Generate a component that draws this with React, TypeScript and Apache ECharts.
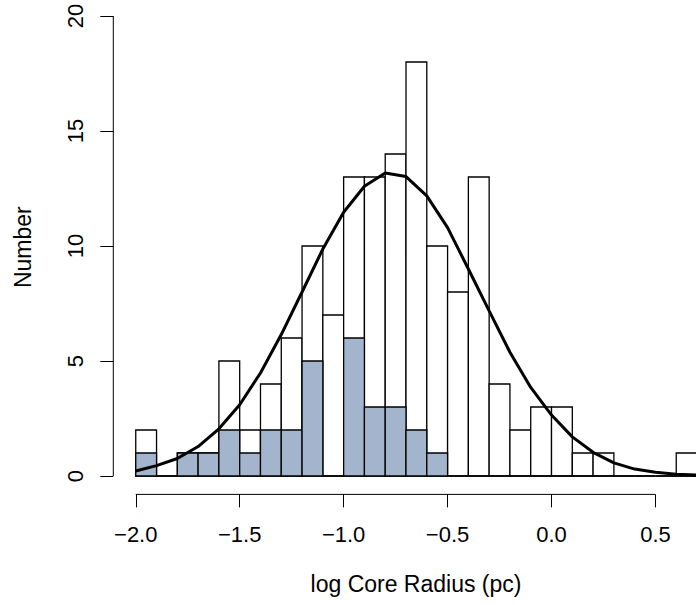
import React, { useEffect, useRef } from "react";
import * as echarts from "echarts";

// Histogram bins (log core radius, pc), width 0.1
const binStart = [-2.0, -1.9, -1.8, -1.7, -1.6, -1.5, -1.4, -1.3, -1.2, -1.1, -1.0, -0.9, -0.8, -0.7, -0.6, -0.5, -0.4, -0.3, -0.2, -0.1, 0.0, 0.1, 0.2, 0.3, 0.4, 0.5, 0.6];
const binEnd = [-1.9, -1.8, -1.7, -1.6, -1.5, -1.4, -1.3, -1.2, -1.1, -1.0, -0.9, -0.8, -0.7, -0.6, -0.5, -0.4, -0.3, -0.2, -0.1, 0.0, 0.1, 0.2, 0.3, 0.4, 0.5, 0.6, 0.7];
const totalCounts = [2, 0, 1, 1, 5, 2, 4, 6, 10, 7, 13, 13, 14, 18, 10, 8, 13, 4, 2, 3, 3, 1, 1, 0, 0, 0, 1];
const subsetCounts = [1, 0, 1, 1, 2, 1, 2, 2, 5, 0, 6, 3, 3, 2, 1, 0, 0, 0, 0, 0, 0, 0, 0, 0, 0, 0, 0];

// Fitted curve
const curveX = [-2.0, -1.9, -1.8, -1.7, -1.6, -1.5, -1.4, -1.3, -1.2, -1.1, -1.0, -0.9, -0.8, -0.7, -0.6, -0.5, -0.4, -0.3, -0.2, -0.1, 0.0, 0.1, 0.2, 0.3, 0.4, 0.5, 0.6, 0.7];
const curveY = [0.22, 0.45, 0.76, 1.28, 2.05, 3.1, 4.48, 6.15, 8.0, 9.87, 11.47, 12.6, 13.17, 13.02, 12.18, 10.8, 9.0, 7.18, 5.38, 3.85, 2.65, 1.7, 1.03, 0.57, 0.3, 0.16, 0.08, 0.04];

// Axes
const xTicks = [-2.0, -1.5, -1.0, -0.5, 0.0, 0.5];
const yTicks = [0, 5, 10, 15, 20];
const xMin = -2.108;
const xMax = 0.695;
const yMin = -0.8;
const yMax = 20.696;

const FONT = "'Liberation Sans', Arial, Helvetica, sans-serif";

const fmt = (v: number) => {
  const s = Number(v).toFixed(1);
  return s.replace("-", "\u2212");
};

function barItem(fill: string) {
  return (params: any, api: any) => {
    const x0 = api.value(0);
    const x1 = api.value(1);
    const c = api.value(2);
    const p0 = api.coord([x0, c]);
    const p1 = api.coord([x1, 0]);
    return {
      type: "rect",
      shape: { x: p0[0], y: p0[1], width: p1[0] - p0[0], height: p1[1] - p0[1] },
      style: { fill, stroke: "#000", lineWidth: 1.3 },
    };
  };
}

export default function App() {
  const ref = useRef<HTMLDivElement>(null);
  useEffect(() => {
    if (!ref.current) return;
    const chart = echarts.init(ref.current, null, { renderer: "svg" });
    const totalData = binStart.map((s, i) => [s, binEnd[i], totalCounts[i]]);
    const subsetData = binStart.map((s, i) => [s, binEnd[i], subsetCounts[i]]);
    chart.setOption({
      animation: false,
      backgroundColor: "#fff",
      grid: { left: 113.3, right: 0, top: 0, bottom: 110.6, containLabel: false },
      xAxis: {
        type: "value",
        min: xMin,
        max: xMax,
        axisLine: { show: false, onZero: false },
        splitLine: { show: false },
        axisTick: {
          show: true,
          customValues: xTicks,
          length: 13,
          lineStyle: { color: "#000", width: 1 },
        },
        axisLabel: {
          show: true,
          customValues: xTicks,
          formatter: (v: number) => fmt(v),
          margin: 29,
          fontSize: 22,
          fontFamily: FONT,
          color: "#000",
        },
      },
      yAxis: {
        type: "value",
        min: yMin,
        max: yMax,
        name: "Number",
        nameLocation: "middle",
        nameRotate: 90,
        nameGap: 79,
        nameTextStyle: { fontSize: 23, fontFamily: FONT, color: "#000" },
        axisLine: { show: false, onZero: false },
        splitLine: { show: false },
        axisTick: {
          show: true,
          customValues: yTicks,
          length: 13,
          lineStyle: { color: "#000", width: 1 },
        },
        axisLabel: {
          show: true,
          customValues: yTicks,
          rotate: 90,
          margin: 27,
          fontSize: 22,
          fontFamily: FONT,
          color: "#000",
        },
      },
      graphic: [
        {
          type: "text",
          x: 416,
          y: 584,
          style: {
            text: "log Core Radius (pc)",
            font: `23px ${FONT}`,
            fill: "#000",
            textAlign: "center",
            textVerticalAlign: "middle",
          },
        },
      ],
      series: [
        {
          type: "custom",
          renderItem: barItem("#ffffff"),
          data: totalData,
          encode: { x: [0, 1], y: 2 },
          clip: true,
          z: 1,
        },
        {
          type: "custom",
          renderItem: barItem("#A2B5CD"),
          data: subsetData,
          encode: { x: [0, 1], y: 2 },
          clip: true,
          z: 2,
        },
        {
          type: "line",
          data: curveX.map((x, i) => [x, curveY[i]]),
          showSymbol: false,
          symbol: "none",
          lineStyle: { color: "#000", width: 3 },
          clip: true,
          z: 3,
        },
        {
          type: "line",
          data: [[xTicks[0], yMin], [xTicks[xTicks.length - 1], yMin]],
          symbol: "none",
          lineStyle: { color: "#000", width: 1 },
          clip: false,
          z: 4,
        },
        {
          type: "line",
          data: [[xMin, yTicks[0]], [xMin, yTicks[yTicks.length - 1]]],
          symbol: "none",
          lineStyle: { color: "#000", width: 1 },
          clip: false,
          z: 4,
        },
      ],
    });
    return () => chart.dispose();
  }, []);
  return (
    <div
      ref={ref}
      style={{ position: "fixed", left: 0, top: 0, width: 696, height: 605, background: "#fff" }}
    />
  );
}
